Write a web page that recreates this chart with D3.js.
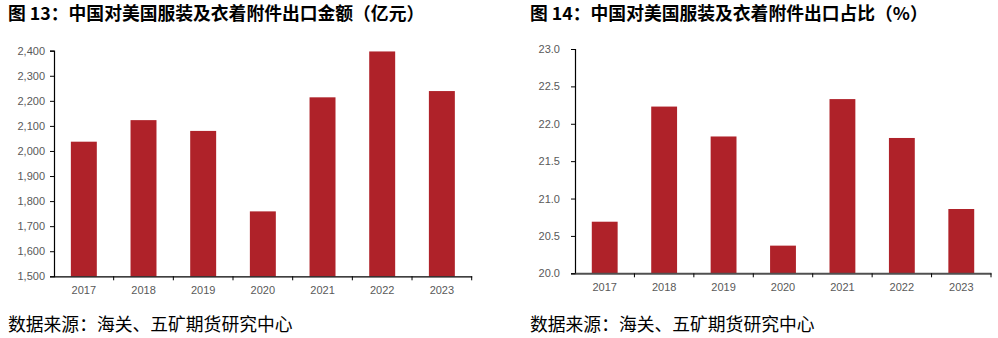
<!DOCTYPE html>
<html>
<head>
<meta charset="utf-8">
<script src="https://cdn.jsdelivr.net/npm/d3@7"></script>
<style>
  html, body { margin: 0; padding: 0; background: #fff; }
  svg { display: block; }
  .title { font-family: "Noto Sans CJK SC", sans-serif; font-weight: 700; font-size: 17.8px; fill: #000; }
  .source { font-family: "Noto Sans CJK SC", sans-serif; font-size: 17.8px; fill: #000; }
  .tick text { font-family: "Liberation Sans", Arial, sans-serif; font-size: 11px; fill: #595959; }
</style>
</head>
<body>
<svg id="chart" width="998" height="338"></svg>
<script>
// Years shared by both panels
const categories = ["2017", "2018", "2019", "2020", "2021", "2022", "2023"];
// China's apparel & clothing-accessory exports to the US, 100 million yuan
const exportValue = [2037, 2123, 2080, 1759, 2214, 2397, 2239];
// Share of those exports going to the US, %
const exportShare = [20.69, 22.23, 21.83, 20.37, 22.33, 21.81, 20.86];
// Axis tick values
const valueTicks = [1500, 1600, 1700, 1800, 1900, 2000, 2100, 2200, 2300, 2400];
const shareTicks = [20.0, 20.5, 21.0, 21.5, 22.0, 22.5, 23.0];

const titles = [
  "图 13：中国对美国服装及衣着附件出口金额（亿元）",
  "图 14：中国对美国服装及衣着附件出口占比（%）"
];
const sourceText = "数据来源：海关、五矿期货研究中心";

const barColor = "#AF2229";
const svg = d3.select("#chart");

function drawPanel(opts) {
  const g = svg.append("g");

  g.append("text").attr("class", "title")
    .attr("x", opts.left).attr("y", 20).text(opts.title);
  g.append("text").attr("class", "source")
    .attr("x", opts.left).attr("y", 331).text(sourceText);

  const x = d3.scaleBand()
    .domain(categories)
    .range([opts.x0, opts.x1])
    .paddingInner(0.565)
    .paddingOuter(0.2825);

  const y = d3.scaleLinear()
    .domain(opts.domain)
    .range([opts.y0, opts.y1]);

  // bars
  g.append("g").selectAll("rect")
    .data(opts.values)
    .join("rect")
    .attr("x", (d, i) => x(categories[i]))
    .attr("y", d => y(d))
    .attr("width", x.bandwidth())
    .attr("height", d => y(opts.domain[0]) - y(d))
    .attr("fill", barColor);

  // y axis
  const yAxis = g.append("g")
    .attr("transform", `translate(${opts.x0},0)`)
    .call(d3.axisLeft(y).tickValues(opts.ticks).tickFormat(opts.format)
      .tickSize(4).tickPadding(opts.yPad));
  yAxis.select(".domain").attr("stroke", "#000").attr("stroke-width", 1.2);
  yAxis.selectAll(".tick line").attr("stroke", "#000");

  // x axis: labels centred under bars, ticks at category boundaries
  const xAxis = g.append("g")
    .attr("transform", `translate(0,${opts.y0})`)
    .call(d3.axisBottom(x).tickSize(0).tickPadding(10).tickSizeOuter(0));
  xAxis.select(".domain").attr("stroke", opts.xAxisColor).attr("stroke-width", opts.xAxisWidth);

  const gap = (x.step() - x.bandwidth()) / 2;
  const bounds = categories.map(c => x(c) + x.bandwidth() + gap);
  xAxis.selectAll(".bound")
    .data(bounds)
    .join("line")
    .attr("class", "bound")
    .attr("x1", d => d).attr("x2", d => d)
    .attr("y1", 0).attr("y2", 4)
    .attr("stroke", "#000");
}

drawPanel({
  left: 8, title: titles[0], values: exportValue,
  x0: 54, x1: 471.7, y0: 276.3, y1: 50.7,
  domain: [1500, 2400], ticks: valueTicks, format: d3.format(","),
  yPad: 5, xAxisColor: "#000", xAxisWidth: 1.2
});

drawPanel({
  left: 530, title: titles[1], values: exportShare,
  x0: 575, x1: 991, y0: 273.3, y1: 49,
  domain: [20, 23], ticks: shareTicks, format: d3.format(".1f"),
  yPad: 11, xAxisColor: "#505050", xAxisWidth: 2
});
</script>
</body>
</html>
